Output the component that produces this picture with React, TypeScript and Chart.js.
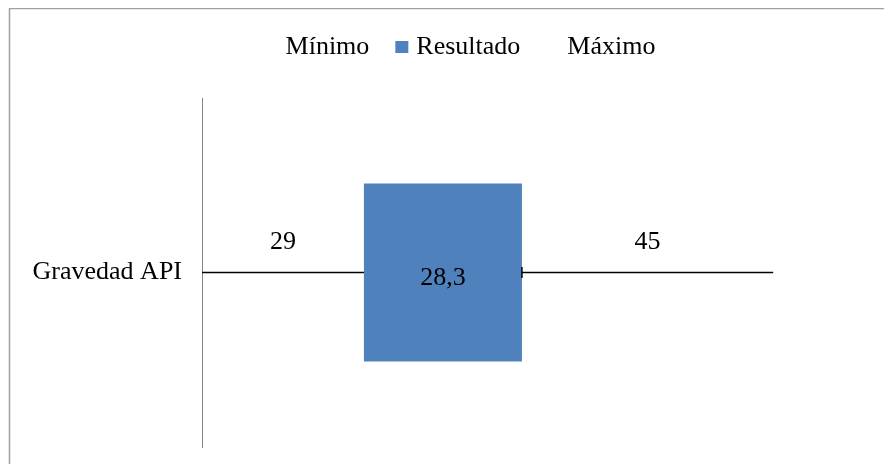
import { useEffect, useRef } from "react";
import { Chart, registerables } from "chart.js";

Chart.register(...registerables);

// Data
const categories = ["Gravedad API"];
const seriesNames = ["Mínimo", "Resultado", "Máximo"];
const minimo = [29];
const resultado = [28.3];
const maximo = [45];

const FONT_FAMILY = '"Liberation Serif", "Times New Roman", serif';
const FONT_SIZE = 26;
const BLUE = "#4F81BD";
const AXIS_GRAY = "#868686";
const FRAME_GRAY = "#A0A0A0";

const fmt = (v: number) => String(v).replace(".", ",");

// Thin range line through the bar, with a cap at the end of the result segment
const rangeLinePlugin = {
  id: "rangeLine",
  beforeDatasetsDraw(chart: any) {
    const { ctx, scales } = chart;
    const x = scales.x;
    const y = scales.y;
    ctx.save();
    ctx.strokeStyle = "#000";
    ctx.lineWidth = 1.5;
    categories.forEach((_, i) => {
      const cy = y.getPixelForValue(i);
      const total = minimo[i] + resultado[i] + maximo[i];
      ctx.beginPath();
      ctx.moveTo(x.getPixelForValue(0), cy);
      ctx.lineTo(x.getPixelForValue(total), cy);
      ctx.stroke();
    });
    ctx.restore();
  },
  afterDatasetsDraw(chart: any) {
    const { ctx, scales } = chart;
    const x = scales.x;
    const y = scales.y;
    ctx.save();
    // cap
    ctx.strokeStyle = "#000";
    ctx.lineWidth = 1.5;
    categories.forEach((_, i) => {
      const cy = y.getPixelForValue(i);
      const cx = x.getPixelForValue(minimo[i] + resultado[i]);
      ctx.beginPath();
      ctx.moveTo(cx, cy - 5.5);
      ctx.lineTo(cx, cy + 5.5);
      ctx.stroke();
    });
    // value labels
    ctx.fillStyle = "#000";
    ctx.font = `${FONT_SIZE}px ${FONT_FAMILY}`;
    ctx.textAlign = "center";
    ctx.textBaseline = "middle";
    categories.forEach((_, i) => {
      const cy = y.getPixelForValue(i);
      const a = minimo[i];
      const b = a + resultado[i];
      const c = b + maximo[i];
      ctx.fillText(fmt(minimo[i]), x.getPixelForValue(a / 2), cy - 30);
      ctx.fillText(fmt(resultado[i]), x.getPixelForValue((a + b) / 2), cy + 6);
      ctx.fillText(fmt(maximo[i]), x.getPixelForValue((b + c) / 2), cy - 30);
    });
    ctx.restore();
  },
};

// Legend row: every entry keeps room for its swatch, hidden swatches stay empty
const legendPlugin = {
  id: "customLegend",
  afterDraw(chart: any) {
    const { ctx } = chart;
    const box = 13;
    const gap = 8;
    const spacing = 26;
    const centerX = 452;
    const cy = 39;
    ctx.save();
    ctx.font = `${FONT_SIZE}px ${FONT_FAMILY}`;
    const items = chart.data.datasets.map((ds: any) => ({
      text: ds.label as string,
      color: ds.backgroundColor as string,
      w: ctx.measureText(ds.label).width,
    }));
    const total =
      items.reduce((s: number, it: any) => s + box + gap + it.w, 0) +
      spacing * (items.length - 1);
    let x = centerX - total / 2;
    ctx.textAlign = "left";
    ctx.textBaseline = "middle";
    items.forEach((it: any) => {
      if (it.color !== "transparent") {
        ctx.fillStyle = it.color;
        ctx.fillRect(x, cy - 6, box, 12);
      }
      ctx.fillStyle = "#000";
      ctx.fillText(it.text, x + box + gap, cy);
      x += box + gap + it.w + spacing;
    });
    ctx.restore();
  },
};

// Outer frame of the chart
const framePlugin = {
  id: "frame",
  afterDraw(chart: any) {
    const { ctx, width, height } = chart;
    ctx.save();
    ctx.strokeStyle = FRAME_GRAY;
    ctx.lineWidth = 1.5;
    ctx.beginPath();
    ctx.moveTo(1.5, height);
    ctx.lineTo(1.5, 0.5);
    ctx.lineTo(width, 0.5);
    ctx.stroke();
    ctx.restore();
  },
};

export default function App() {
  const canvasRef = useRef<HTMLCanvasElement | null>(null);

  useEffect(() => {
    if (!canvasRef.current) return;
    const chart = new Chart(canvasRef.current, {
      type: "bar",
      data: {
        labels: categories,
        datasets: [
          {
            label: seriesNames[0],
            data: minimo,
            backgroundColor: "transparent",
            barPercentage: 0.51,
            categoryPercentage: 1,
          },
          {
            label: seriesNames[1],
            data: resultado,
            backgroundColor: BLUE,
            barPercentage: 0.51,
            categoryPercentage: 1,
          },
          {
            label: seriesNames[2],
            data: maximo,
            backgroundColor: "transparent",
            barPercentage: 0.51,
            categoryPercentage: 1,
          },
        ],
      },
      options: {
        indexAxis: "y",
        responsive: false,
        animation: false,
        layout: { padding: { left: 20, top: 90, right: 20, bottom: 17 } },
        plugins: {
          legend: { display: false },
          tooltip: { enabled: false },
        },
        scales: {
          x: {
            type: "linear",
            stacked: true,
            min: 0,
            max: 120,
            display: false,
          },
          y: {
            type: "category",
            stacked: true,
            grid: { display: false, drawTicks: false },
            border: { display: true, color: AXIS_GRAY, width: 1 },
            ticks: {
              color: "#000",
              padding: 20,
              font: { family: FONT_FAMILY, size: FONT_SIZE },
            },
            afterFit(scale: any) {
              scale.width = 174;
              scale.paddingTop = 0;
              scale.paddingBottom = 0;
            },
          },
        },
      },
      plugins: [rangeLinePlugin, legendPlugin, framePlugin],
    });
    return () => chart.destroy();
  }, []);

  return (
    <div style={{ width: 884, height: 456, background: "#fff" }}>
      <canvas ref={canvasRef} width={884} height={456} />
    </div>
  );
}
